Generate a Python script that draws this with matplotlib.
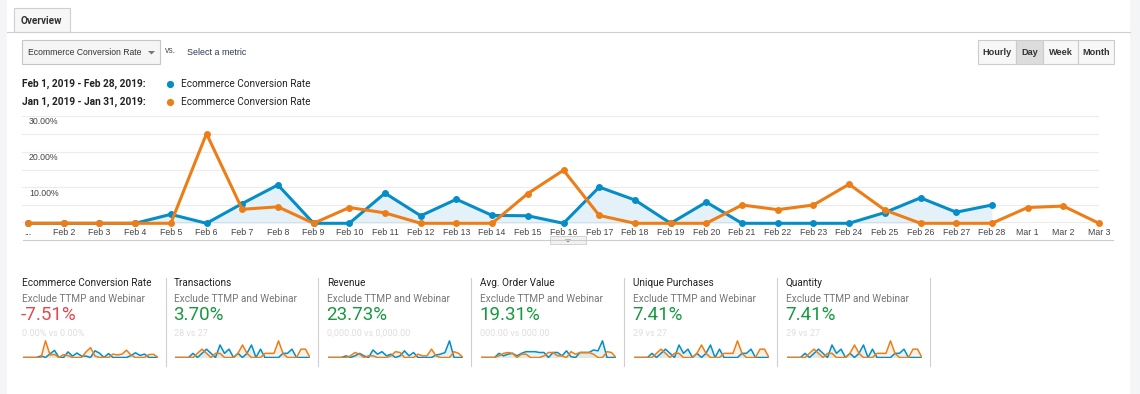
import matplotlib
matplotlib.use('Agg')
from matplotlib import pyplot as plt
from matplotlib.patches import Rectangle, Polygon
# --

W, H = 1140, 394

day_labels = ['...', 'Feb 2', 'Feb 3', 'Feb 4', 'Feb 5', 'Feb 6', 'Feb 7', 'Feb 8',
              'Feb 9', 'Feb 10', 'Feb 11', 'Feb 12', 'Feb 13', 'Feb 14', 'Feb 15',
              'Feb 16', 'Feb 17', 'Feb 18', 'Feb 19', 'Feb 20', 'Feb 21', 'Feb 22',
              'Feb 23', 'Feb 24', 'Feb 25', 'Feb 26', 'Feb 27', 'Feb 28', 'Mar 1',
              'Mar 2', 'Mar 3']

# Ecommerce conversion rate (%), Feb 2019 vs Jan 2019
conv_feb = [0, 0, 0, 0, 2.5, 0, 5.5, 10.7, 0, 0, 8.4, 2.1, 6.7, 2.2, 2.1, 0, 10.1,
            6.5, 0, 5.9, 0, 0, 0, 0, 3.0, 7.1, 3.1, 5.1]
conv_jan = [0, 0, 0, 0, 0, 25.0, 3.9, 4.6, 0, 4.4, 2.9, 0, 0, 0, 8.3, 14.8, 2.2,
            0, 0, 0, 5.1, 3.8, 5.1, 10.9, 3.7, 0, 0, 0, 4.4, 4.8, 0]
y_ticks = [10, 20, 30]

# scorecards
card_titles = ['Ecommerce Conversion Rate', 'Transactions', 'Revenue',
               'Avg. Order Value', 'Unique Purchases', 'Quantity']
card_changes = ['-7.51%', '3.70%', '23.73%', '19.31%', '7.41%', '7.41%']
card_compare = ['0.00% vs 0.00%', '28 vs 27', '0,000.00 vs 0,000.00',
                '000.00 vs 000.00', '29 vs 27', '29 vs 27']

# sparklines (rough shapes read off the thumbnails)
trans_feb = [0, 0, 0, 0, 1, 0, 1, 2, 1, 0, 3, 1, 2, 0, 1, 0, 1, 3, 0, 2, 0, 0, 0,
             0, 1, 1, 2, 0, 0, 0, 0]
trans_jan = [0, 0, 0, 0, 0, 1, 2, 1, 0, 1, 1, 0, 0, 0, 1, 3, 1, 0, 0, 0, 1, 1, 1,
             4, 1, 0, 0, 0, 2, 2, 0]
rev_feb = [0, 0, 0, 0, 0.1, 0, 0.1, 0.25, 0.1, 0, 0.45, 0.2, 0.35, 0.1, 0.2, 0,
           0.1, 0.4, 0.1, 0.3, 0, 0, 0, 0, 0.15, 0.2, 0.3, 1.0, 0, 0, 0]
rev_jan = [0, 0, 0, 0, 0, 0.1, 0.3, 0.2, 0, 0.1, 0.1, 0, 0, 0, 0.1, 0.35, 0.3, 0,
           0, 0, 0.2, 0.1, 0.1, 0.5, 0.1, 0, 0, 0, 0.35, 0.25, 0]
aov_feb = [0, 0, 0, 0, 0.25, 0.1, 0.2, 0.25, 0.1, 0.25, 0.35, 0.35, 0.35, 0.3, 0.3,
           0, 0.3, 0.3, 0.1, 0.4, 0.05, 0, 0.3, 0.3, 0.3, 0.45, 0.4, 1.0, 0, 0, 0]
aov_jan = [0, 0, 0, 0, 0.1, 0.25, 0.3, 0.25, 0, 0.2, 0.2, 0, 0, 0, 0.1, 0.3, 0.3,
           0.1, 0.1, 0, 0.35, 0.2, 0.3, 0.3, 0.3, 0.2, 0, 0, 0.35, 0.3, 0]
# --

BLUE = '#058dc7'
ORANGE = '#ed7e17'
FONT = 'Roboto'
ARIAL = 'Liberation Sans'


def px_axes(x0, y0, x1, y1):
    # pixel box (top-left origin) -> figure fraction rect
    return [x0 / W, 1 - y1 / H, (x1 - x0) / W, (y1 - y0) / H]


fig = plt.figure(figsize=(W / 100, H / 100), dpi=100)
ui = fig.add_axes([0, 0, 1, 1])
ui.set_xlim(0, W)
ui.set_ylim(H, 0)
ui.axis('off')

# page frame
ui.add_patch(Rectangle((0, 0), 7, H, color='#f4f5f7', lw=0))
ui.add_patch(Rectangle((1130, 0), 10, H, color='#f4f5f7', lw=0))
ui.plot([7, 1130], [31.5, 31.5], color='#cfcfcf', lw=0.8)
ui.add_patch(Rectangle((14, 8), 56, 24, facecolor='#f7f7f7', edgecolor='#cfcfcf', lw=0.8))
ui.text(21, 20.5, 'Overview', fontsize=7.2, fontweight='bold', color='#333',
        va='center', family=FONT)

# metric picker
ui.add_patch(Rectangle((22, 40), 138, 24, facecolor='#f5f5f5', edgecolor='#c6c6c6', lw=0.8))
ui.text(28, 52.5, 'Ecommerce Conversion Rate', fontsize=6.2, color='#333',
        va='center', family=ARIAL)
ui.add_patch(Polygon([[148, 51], [155, 51], [151.5, 54.5]], color='#777', lw=0))
ui.text(165, 50, 'vs.', fontsize=6.2, color='#555', va='center', family=ARIAL)
ui.text(187, 52.5, 'Select a metric', fontsize=6.4, color='#2b3a55', va='center',
        family=ARIAL)

# hourly/day/week/month buttons
btns = [('Hourly', 978, 1016), ('Day', 1016, 1043), ('Week', 1043, 1078), ('Month', 1078, 1114)]
for name, bx0, bx1 in btns:
    fc = '#dcdcdc' if name == 'Day' else '#f7f7f7'
    ui.add_patch(Rectangle((bx0, 40), bx1 - bx0, 24, facecolor=fc, edgecolor='#cccccc', lw=0.8))
    ui.text((bx0 + bx1) / 2, 52.5, name, fontsize=6.6, fontweight='bold', color='#333',
            ha='center', va='center', family=ARIAL)

# legend
for yy, rng, col in [(83.5, 'Feb 1, 2019 - Feb 28, 2019:', BLUE),
                     (101.5, 'Jan 1, 2019 - Jan 31, 2019:', ORANGE)]:
    ui.text(22, yy, rng, fontsize=7.3, fontweight='bold', color='#222', va='center',
            family=FONT)
    ui.plot(170, yy, 'o', color=col, ms=5.2, mec='none')
    ui.text(181, yy, 'Ecommerce Conversion Rate', fontsize=7.2, color='#222',
            va='center', family=FONT)

# main chart
x_left, x_right = 22, 1099
y_top, y_base = 115.7, 223.3
step = 35.7
ax = fig.add_axes(px_axes(x_left, y_top, x_right, y_base))
ax.set_facecolor('none')
ax.set_xlim(-(28 - x_left) / step, 30)
ax.set_ylim(0, 30)
for s in ax.spines.values():
    s.set_visible(False)
ax.set_xticks([])
ax.set_yticks([])
for g in [5, 10, 15, 20, 25, 30]:
    ax.axhline(g, color='#ececec', lw=0.8, zorder=1)

xf = list(range(len(conv_feb)))
xj = list(range(len(conv_jan)))
ax.fill_between(xf, 0, conv_feb, color='#e4f1f8', lw=0, zorder=1.5)
ax.axhline(0, color='#666', lw=0.9, zorder=2)
ax.plot(xf, conv_feb, '-o', color=BLUE, lw=2.2, ms=5, mec='none', zorder=3, clip_on=False)
ax.plot(xj, conv_jan, '-o', color=ORANGE, lw=2.2, ms=5, mec='none', zorder=4, clip_on=False)

for t in y_ticks:
    ypx = y_base - (y_base - y_top) * t / 30
    ui.text(29, ypx + 6, '%.2f%%' % t, fontsize=6.3, color='#444', va='center',
            family=ARIAL, zorder=5)
for i, lab in enumerate(day_labels):
    ui.text(28 + step * i, 232, lab, fontsize=6.3, color='#444', ha='center',
            va='center', family=ARIAL)

ui.plot([23, 1113], [240, 240], color='#cccccc', lw=0.8)
ui.add_patch(Rectangle((550, 236), 36, 8, facecolor='#f2f2f2', edgecolor='#cccccc', lw=0.6))
ui.add_patch(Polygon([[565, 239.5], [571, 239.5], [568, 242.5]], color='#777', lw=0))

# scorecards
col_x = [22, 174, 327, 480, 633, 786]
sparks = [(conv_feb + [0, 0, 0], conv_jan), (trans_feb, trans_jan), (rev_feb, rev_jan),
          (aov_feb, aov_jan), (trans_feb, trans_jan), (trans_feb, trans_jan)]
for k, cx in enumerate(col_x):
    ui.plot([cx + 144, cx + 144], [278, 366], color='#d0d0d0', lw=0.8)
    ui.text(cx, 283.5, card_titles[k], fontsize=7.2, color='#222', va='center', family=FONT)
    ui.text(cx, 298.5, 'Exclude TTMP and Webinar', fontsize=7.2, color='#777',
            va='center', family=FONT)
    chg_col = '#e5474f' if card_changes[k].startswith('-') else '#17993f'
    ui.text(cx - 1, 315, card_changes[k], fontsize=13.5, color=chg_col, va='center',
            family=FONT)
    ui.text(cx, 333, card_compare[k], fontsize=6.5, color='#c8c8c8', va='center',
            family=FONT, alpha=0.6)

    cur, prev = sparks[k]
    sp = fig.add_axes(px_axes(cx + 1, 340, cx + 136, 358))
    sp.axis('off')
    top = max(max(cur), max(prev))
    sp.set_xlim(0, len(prev) - 1)
    sp.set_ylim(-top * 0.03, top * 1.05)
    sp.fill_between(range(len(cur)), 0, cur, color=BLUE, alpha=0.1, lw=0)
    sp.fill_between(range(len(prev)), 0, prev, color=ORANGE, alpha=0.1, lw=0)
    sp.plot(range(len(cur)), cur, color=BLUE, lw=1.1)
    sp.plot(range(len(prev)), prev, color=ORANGE, lw=1.1)

plt.savefig('out.png', dpi=100)
plt.close('all')
